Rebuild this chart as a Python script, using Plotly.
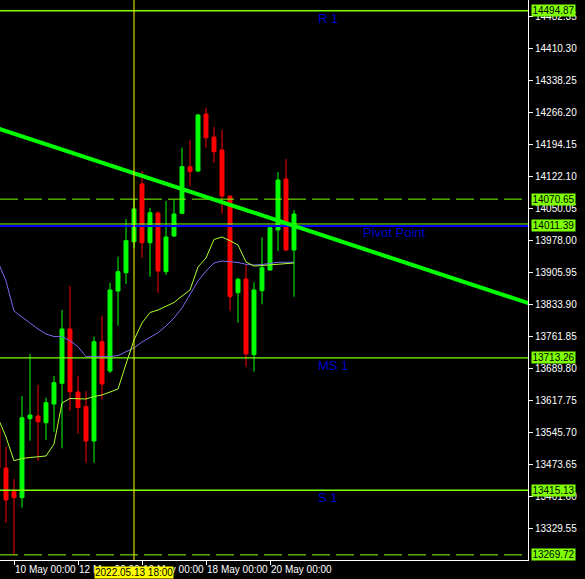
import plotly.graph_objects as go

# ---------------- data ----------------
days = ["2022.05.09", "2022.05.10", "2022.05.11", "2022.05.12", "2022.05.13",
        "2022.05.16", "2022.05.17", "2022.05.18", "2022.05.19", "2022.05.20"]
hours = ["00:00", "06:00", "12:00", "18:00"]
times = [f"{d} {h}" for d in days for h in hours][2:]   # 6-hour bars from 09 May 12:00

opens = [13555.37, 13465.30, 13411.94, 13398.43, 13576.31, 13582.38, 13567.30, 13609.40,
         13656.01, 13778.27, 13636.42, 13603.32, 13526.09, 13749.68, 13683.71, 13863.83,
         13905.04, 13974.84, 14104.76, 13972.59, 14039.46, 13907.29, 13987.67, 14038.78,
         14143.71, 14134.03, 14262.37, 14210.58, 14181.31, 14077.74, 13860.01, 13890.85,
         13720.41, 13864.51, 13911.12, 14001.18, 14116.01, 13956.15]
highs = [13573.38, 13513.26, 13440.53, 13627.42, 13721.98, 13652.18, 13623.59, 13672.45,
         13821.05, 13875.09, 13672.45, 13638.67, 13760.94, 13808.22, 13882.52, 13941.06,
         14025.95, 14068.73, 14134.03, 14050.72, 14042.39, 14066.48, 14069.85, 14186.49,
         14203.83, 14262.37, 14276.55, 14233.10, 14226.34, 14077.74, 13893.78, 13922.38,
         13883.42, 13984.75, 14012.44, 14131.77, 14161.05, 14046.21]
lows = [13449.54, 13342.14, 13269.72, 13375.91, 13526.77, 13481.74, 13528.35, 13547.03,
        13509.66, 13594.32, 13542.98, 13477.23, 13477.23, 13619.99, 13678.53, 13785.70,
        13879.60, 13960.70, 13938.81, 13896.03, 13860.01, 13899.86, 13985.42, 14037.21,
        14100.93, 14131.77, 14186.49, 14152.71, 14037.88, 13819.48, 13792.46, 13693.39,
        13682.13, 13833.89, 13909.54, 13953.90, 13953.90, 13851.00]
closes = [13465.30, 13393.25, 13398.43, 13578.56, 13584.64, 13569.55, 13612.33, 13657.36,
          13778.27, 13637.10, 13601.52, 13526.09, 13749.68, 13654.44, 13866.09, 13907.29,
          13977.09, 14048.47, 13972.59, 14040.13, 13908.87, 13985.42, 14037.21, 14143.71,
          14132.45, 14260.12, 14209.00, 14177.48, 14077.74, 13851.00, 13890.18, 13721.98,
          13866.09, 13916.30, 14006.36, 14113.76, 13956.15, 14037.21]

ma_fast = [13577.88, 13535.10, 13481.74, 13486.69, 13488.94, 13490.07, 13492.32, 13519.34,
           13611.66, 13621.79, 13621.79, 13620.66, 13626.29, 13629.67, 13636.42, 13643.18,
           13699.47, 13753.51, 13791.78, 13815.42, 13821.05, 13828.93, 13837.94, 13852.58,
           13866.09, 13917.87, 13938.14, 13979.79, 13985.42, 13977.09, 13967.41, 13929.13,
           13920.12, 13921.25, 13922.38, 13924.63, 13925.75, 13926.88]
ma_slow = [13929.13, 13886.35, 13818.80, 13805.29, 13791.78, 13778.27, 13767.02, 13761.39,
           13760.94, 13751.93, 13738.42, 13715.90, 13715.90, 13715.90, 13715.90, 13718.61,
           13726.49, 13735.49, 13749.00, 13760.26, 13769.94, 13785.03, 13803.04, 13825.56,
           13854.83, 13886.35, 13908.87, 13926.88, 13931.38, 13930.26, 13928.00, 13923.95,
           13922.38, 13923.50, 13925.75, 13928.46, 13928.46, 13928.46]

level_names = ["R 1", "", "Pivot Point", "MS 1", "S 1", ""]
level_prices = [14494.87, 14070.65, 14011.39, 13713.26, 13415.13, 13269.72]
level_dashed = [False, True, False, False, False, True]

trend_times = ["2022.05.09 18:00", "2022.05.20 18:00"]
trend_prices = [14224.09, 14010.40]

cursor_time = "2022.05.13 18:00"

tick_times = ["2022.05.10 00:00", "2022.05.12 00:00", "2022.05.16 00:00",
              "2022.05.18 00:00", "2022.05.20 00:00"]
tick_labels = ["10 May 00:00", "12 May 00:00", "16 May 00:00", "18 May 00:00", "20 May 00:00"]

y_ticks = [13329.55, 13401.60, 13473.65, 13545.70, 13617.75, 13689.80, 13761.85, 13833.90,
           13905.95, 13978.00, 14050.05, 14122.10, 14194.15, 14266.20, 14338.25, 14410.30,
           14482.35]

# ---------------- style ----------------
LEVEL = "#7FFF00"
BULL = "#00FF00"
BEAR = "#FF0000"
TEXTBLUE = "#0000CD"
FONT = "Liberation Sans, Arial"
FS = 10
XR = [0.25, 66.25]
YR = [13258.15, 14519.05]

idx = list(range(len(times)))

fig = go.Figure()

fig.add_trace(go.Candlestick(
    x=idx, open=opens, high=highs, low=lows, close=closes,
    increasing=dict(line=dict(color=BULL, width=1), fillcolor=BULL),
    decreasing=dict(line=dict(color=BEAR, width=1), fillcolor=BEAR),
    whiskerwidth=0, showlegend=False, hoverinfo="skip"))

fig.add_trace(go.Scatter(x=idx, y=ma_slow, mode="lines",
                         line=dict(color="#7B68EE", width=1), showlegend=False, hoverinfo="skip"))
fig.add_trace(go.Scatter(x=idx, y=ma_fast, mode="lines",
                         line=dict(color="#ADFF2F", width=1), showlegend=False, hoverinfo="skip"))

# horizontal levels
for name, p, dashed in zip(level_names, level_prices, level_dashed):
    if name == "Pivot Point":
        # thin level line just above the blue pivot line
        fig.add_shape(type="line", xref="paper", x0=0, x1=1, yref="y",
                      ysizemode="pixel", yanchor=p, y0=1.5, y1=1.5,
                      line=dict(color=LEVEL, width=1))
        fig.add_shape(type="line", xref="paper", x0=0, x1=1, yref="y",
                      ysizemode="pixel", yanchor=p, y0=-0.5, y1=-0.5,
                      line=dict(color="#0000FF", width=2))
    else:
        fig.add_shape(type="line", xref="paper", x0=0, x1=1, yref="y", y0=p, y1=p,
                      line=dict(color=LEVEL, width=1 if dashed else 1.4,
                                dash="18px,6px" if dashed else "solid"))
    if name:
        fig.add_annotation(xref="paper", x=(361 if name == "Pivot Point" else 316) / 528,
                           yref="y", y=p, text=name, showarrow=False,
                           xanchor="left", yanchor="top", yshift=2,
                           font=dict(family="Liberation Sans, Arial", size=13, color=TEXTBLUE))
    fig.add_annotation(xref="paper", x=1, xanchor="left", xshift=3, yref="y", y=p,
                       yanchor="middle", text=f"{p:.2f}", showarrow=False,
                       bgcolor=LEVEL, width=43, height=11, borderpad=0,
                       font=dict(family=FONT, size=FS, color="#000000"))

# trend line (ray through two anchors, clipped by axis range)
t0, t1 = times.index(trend_times[0]), times.index(trend_times[1])
slope = (trend_prices[1] - trend_prices[0]) / (t1 - t0)
xa, xb = XR[0] - 1, XR[1] + 1
fig.add_shape(type="line", xref="x", yref="y",
              x0=xa, y0=trend_prices[0] + slope * (xa - t0),
              x1=xb, y1=trend_prices[0] + slope * (xb - t0),
              line=dict(color="#00FF00", width=4))

# cursor vertical line + its time label
ci = times.index(cursor_time)
fig.add_shape(type="line", xref="x", x0=ci, x1=ci, yref="paper", y0=0, y1=1,
              line=dict(color="#FFFF00", width=1))
fig.add_annotation(xref="x", x=ci, yref="paper", y=0, yanchor="top", yshift=-6,
                   text=cursor_time, showarrow=False, bgcolor="#FFFF00",
                   borderpad=0, height=11,
                   font=dict(family=FONT, size=FS, color="#000000"))

fig.update_layout(
    width=585, height=579,
    margin=dict(l=0, r=57, t=0, b=19, pad=0),
    paper_bgcolor="#000000", plot_bgcolor="#000000",
    showlegend=False,
    xaxis=dict(range=XR, showgrid=False, zeroline=False, rangeslider=dict(visible=False),
               tickmode="array", tickvals=[times.index(t) for t in tick_times],
               ticktext=tick_labels, ticks="outside", ticklen=4, tickcolor="#FFFFFF",
               tickangle=0, ticklabelposition="outside right", ticklabelstandoff=0,
               showline=True, linecolor="#FFFFFF", linewidth=1,
               tickfont=dict(family=FONT, size=FS, color="#FFFFFF"), automargin=False),
    yaxis=dict(range=YR, side="right", showgrid=False, zeroline=False,
               tickmode="array", tickvals=y_ticks, ticktext=[f"{v:.2f}" for v in y_ticks],
               ticks="outside", ticklen=4, tickcolor="#FFFFFF",
               showline=True, linecolor="#FFFFFF", linewidth=1,
               tickfont=dict(family=FONT, size=FS, color="#FFFFFF"), automargin=False),
)

fig.write_html("out.html", config={"displayModeBar": False},
               post_script="document.body.style.margin='0';document.body.style.background='#000';")
